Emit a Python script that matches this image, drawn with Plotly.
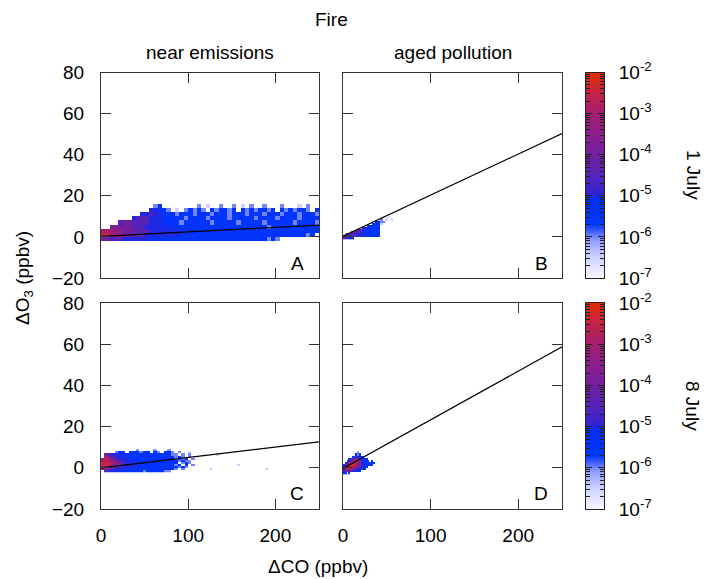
import numpy as np
import plotly.graph_objects as go

# The page body has an 8 px margin, so the figure is drawn 8 px smaller and
# every pixel position below is shifted by that amount.
WIN_W, WIN_H = 709, 579
OFF = 8
W, H = WIN_W - OFF, WIN_H - OFF
FONT = "Liberation Sans, Arial, Helvetica, sans-serif"

# ---------------- data ----------------
# density level codes -> log10(probability density)
LEVEL_CODES = ['.', '0', '1', '2', '3', '4', '5', '6', '7', '8', '9', 'a']
LEVEL_LOG10 = [None, -7.0, -6.5, -6.0, -5.5, -5.0, -4.5, -4.0, -3.5, -3.0, -2.5, -2.0]

# Panel A: near emissions, 1 July  (x bins 5 ppbv from 0, y bins 2 ppbv from -2), rows top -> bottom
A_BINS = [0, 5, -2, 2]
A_ROWS = [
    "............23......" + "..2.1..2..2.1.2..2.." + ".2...1.2..",
    "..........." + "4433" + "2.1.2" + "3232.323323.32323323.3232332.3",
    "........." + "445443" + "3323332333" + "2333233323" + "3323332333" + "23332",
    "......." + "45554443" + "3333233332" + "3333233333" + "2333323333" + "23333",
    "...." + "56655554443" + "3332333333" + "2333332333" + "3323333332" + "33332",
    ".." + "6766655544443" + "4333333333" + "3333333333" + "3332333333" + "33333",
    "888776665554444" + "4443333333" + "3333333333" + "3333333333" + "33333",
    "998776655544444" + "4443333333" + "3333333333" + "3333333333" + "3323.3..3.",
    "665554444443333" + "3333333333" + "3333333333" + "33323" + "2.........",
]
A_NCOLS = 50

# Panel B: aged pollution, 1 July  (x bins 3 ppbv, y bins 1 ppbv from -1)
B_BINS = [0, 3, -1, 1]
B_ROWS = [
    "...............1.1..",
    "..............2.1.1.",
    "............3322....",
    "...........3331.....",
    ".........43333......",
    ".......4433333......",
    ".....554333333......",
    "...55554333333......",
    ".5555444333333......",
    "66555444433333......",
    "5543................",
]
B_NCOLS = 20

# Panel C: near emissions, 8 July  (x bins 4 ppbv, y bins 1 ppbv from -2)
C_BINS = [0, 4, -2, 1]
C_ROWS = [
    ".........." + "2" + "...." + "2" + "..." + "2" + "." * 30,
    "...." + "233.3332" + "33.32.332" + ".2..1" + "." * 24,
    "." + "65" + "4443333333333333" + "32" + "2.2.2." + "......" + "1" + "." * 16,
    "." + "86" + "5444333333333333" + "33" + "232.2." + "." * 23,
    "7" + "98" + "6544433333333333" + "33" + "2323.2" + "." * 23,
    "8" + "98" + "7654443333333333" + "33" + "32322." + "." * 23,
    "9" + "99" + "8765444333333333" + "33" + "3.232." + "." * 23,
    "9" + "99" + "7655444433333333" + "33" + "23.3.2" + "." * 12 + "1" + "." * 10,
    "8" + "88" + "6554444333333333" + "33" + "3232.." + "." * 23,
    "7" + "76" + "5444333333333333" + "33" + "2.2..." + "...." + "1" + "." * 15 + "1" + "..",
    "." + "54" + "4333333332333332" + "2." + "......" + "." * 23,
]
C_NCOLS = 50

# Panel D: aged pollution, 8 July  (x bins 2 ppbv, y bins 1 ppbv from -3)
D_BINS = [0, 2, -3, 1]
D_ROWS = [
    "........2...........",
    ".......323..........",
    ".....3454333........",
    "...34567654333......",
    "..3478887654333.3...",
    ".35789987654333333..",
    "35789a98765443333...",
    "4689a987654433......",
    "5799876544333.......",
    "4676544333..........",
    "33.3................",
]
D_NCOLS = 20

# linear fits  dO3 = intercept + slope * dCO
FIT_SLOPE = [0.0216, 0.200, 0.0505, 0.236]
FIT_INTERCEPT = [0.3, 0.3, 0.0, -0.3]

PANEL_LETTERS = ["A", "B", "C", "D"]
COL_TITLES = ["near emissions", "aged pollution"]
ROW_TITLES = ["1 July", "8 July"]
X_TICKS = [0, 100, 200]
Y_TICKS = [-20, 0, 20, 40, 60, 80]
CB_EXPONENTS = [-7, -6, -5, -4, -3, -2]

# ---------------- helpers ----------------
LEVEL = dict(zip(LEVEL_CODES, LEVEL_LOG10))


def decode(rows, ncols, bins):
    x0, dx, y0, dy = bins
    z = []
    for r in reversed(rows):
        r = (r + "." * ncols)[:ncols]
        z.append([LEVEL[ch] for ch in r])
    xs = [x0 + dx * (i + 0.5) for i in range(ncols)]
    ys = [y0 + dy * (j + 0.5) for j in range(len(rows))]
    return xs, ys, z


CSCALE = [
    [0.00, "rgb(248,248,255)"],
    [0.10, "rgb(205,210,255)"],
    [0.18, "rgb(150,160,255)"],
    [0.23, "rgb(60,90,255)"],
    [0.26, "rgb(0,55,255)"],
    [0.38, "rgb(10,45,245)"],
    [0.42, "rgb(55,35,205)"],
    [0.50, "rgb(85,35,185)"],
    [0.60, "rgb(115,32,160)"],
    [0.70, "rgb(140,30,140)"],
    [0.80, "rgb(165,30,110)"],
    [0.90, "rgb(195,35,70)"],
    [1.00, "rgb(228,45,5)"],
]

fig = go.Figure()

panels = [(A_ROWS, A_NCOLS, A_BINS), (B_ROWS, B_NCOLS, B_BINS),
          (C_ROWS, C_NCOLS, C_BINS), (D_ROWS, D_NCOLS, D_BINS)]
axis_ids = ["", "2", "3", "4"]
for k, (rows, nc, bins) in enumerate(panels):
    xs, ys, z = decode(rows, nc, bins)
    fig.add_trace(go.Heatmap(
        x=xs, y=ys, z=z, zmin=-7, zmax=-2, colorscale=CSCALE, showscale=False,
        hoverinfo="skip", xaxis="x" + axis_ids[k], yaxis="y" + axis_ids[k]))
    xl = np.array([0.0, 250.0])
    fig.add_trace(go.Scatter(
        x=xl, y=FIT_INTERCEPT[k] + FIT_SLOPE[k] * xl, mode="lines",
        line=dict(color="black", width=1.2), hoverinfo="skip", showlegend=False,
        xaxis="x" + axis_ids[k], yaxis="y" + axis_ids[k]))

# colour bars as their own heatmaps
cb_vals = np.linspace(-7, -2, 301)
for cid in ["5", "6"]:
    fig.add_trace(go.Heatmap(
        x=[0], y=cb_vals, z=[[v] for v in cb_vals], zmin=-7, zmax=-2, colorscale=CSCALE,
        showscale=False, hoverinfo="skip", xaxis="x" + cid, yaxis="y" + cid))


def px_x(p):
    return (p - OFF) / W


def px_y(p):
    return 1 - (p - OFF) / H


LINE = "#333333"
tickfont = dict(family=FONT, size=19, color="black")

xdom_l = [px_x(101), px_x(319)]
xdom_r = [px_x(343), px_x(562)]
xdom_cb = [px_x(586), px_x(604)]
ydom_t = [px_y(278), px_y(72.5)]
ydom_b = [px_y(509), px_y(303)]


def xax(dom, anchor, labels):
    return dict(domain=dom, anchor=anchor, range=[0, 250], tickvals=X_TICKS,
                ticks="inside", ticklen=10, tickcolor=LINE, tickwidth=1,
                showline=True, linecolor=LINE, linewidth=1, mirror="ticks",
                showgrid=False, zeroline=False, showticklabels=labels,
                tickfont=tickfont, ticklabelstandoff=9, automargin=False)


def yax(dom, anchor, labels):
    return dict(domain=dom, anchor=anchor, range=[-20, 80], tickvals=Y_TICKS,
                ticks="inside", ticklen=10, tickcolor=LINE, tickwidth=1,
                showline=True, linecolor=LINE, linewidth=1, mirror="ticks",
                showgrid=False, zeroline=False, showticklabels=labels,
                tickfont=tickfont, ticklabelstandoff=12, automargin=False)


minor_vals = [d + np.log10(m) for d in range(-7, -2) for m in range(2, 10)]


def cb_x(anchor):
    return dict(domain=xdom_cb, anchor=anchor, range=[-0.5, 0.5], showticklabels=False,
                ticks="", showline=True, linecolor="#222", linewidth=1, mirror=True,
                showgrid=False, zeroline=False, automargin=False)


def cb_y(dom, anchor):
    return dict(domain=dom, anchor=anchor, range=[-7, -2], side="right",
                tickvals=CB_EXPONENTS, ticktext=["10<sup>%d</sup>" % e for e in CB_EXPONENTS],
                ticks="inside", ticklen=6, tickcolor="#222", tickwidth=1,
                showline=True, linecolor="#222", linewidth=1, mirror="ticks",
                showgrid=False, zeroline=False, tickfont=tickfont, ticklabelstandoff=10,
                automargin=False,
                minor=dict(tickvals=minor_vals, ticks="inside", ticklen=4,
                           tickcolor="#222", tickwidth=1, showgrid=False))


annotations = []


def ann(text, x, y, angle=0, size=19):
    annotations.append(dict(text=text, x=px_x(x), y=px_y(y), xref="paper", yref="paper",
                            showarrow=False, xanchor="center", yanchor="middle",
                            textangle=angle, font=dict(family=FONT, size=size, color="black")))


ann("Fire", 331.5, 20)
ann(COL_TITLES[0], 210, 53)
ann(COL_TITLES[1], 452.5, 53)
ann("ΔO<sub>3</sub> (ppbv)", 24, 278, angle=-90)
ann("ΔCO (ppbv)", 318, 566)
ann(ROW_TITLES[0], 693, 175, angle=90)
ann(ROW_TITLES[1], 693, 406, angle=90)
letter_pos = [(297, 263), (541, 263), (297, 493), (541, 493)]
for L, (lx, ly) in zip(PANEL_LETTERS, letter_pos):
    ann(L, lx, ly)

fig.update_layout(
    template="none",
    width=W, height=H, autosize=False,
    margin=dict(l=0, r=0, t=0, b=0, pad=0),
    paper_bgcolor="white", plot_bgcolor="white",
    showlegend=False,
    font=dict(family=FONT, size=19, color="black"),
    xaxis=xax(xdom_l, "y", False), yaxis=yax(ydom_t, "x", True),
    xaxis2=xax(xdom_r, "y2", False), yaxis2=yax(ydom_t, "x2", False),
    xaxis3=xax(xdom_l, "y3", True), yaxis3=yax(ydom_b, "x3", True),
    xaxis4=xax(xdom_r, "y4", True), yaxis4=yax(ydom_b, "x4", False),
    xaxis5=cb_x("y5"), yaxis5=cb_y(ydom_t, "x5"),
    xaxis6=cb_x("y6"), yaxis6=cb_y(ydom_b, "x6"),
    annotations=annotations,
)

fig.write_html("out.html")
